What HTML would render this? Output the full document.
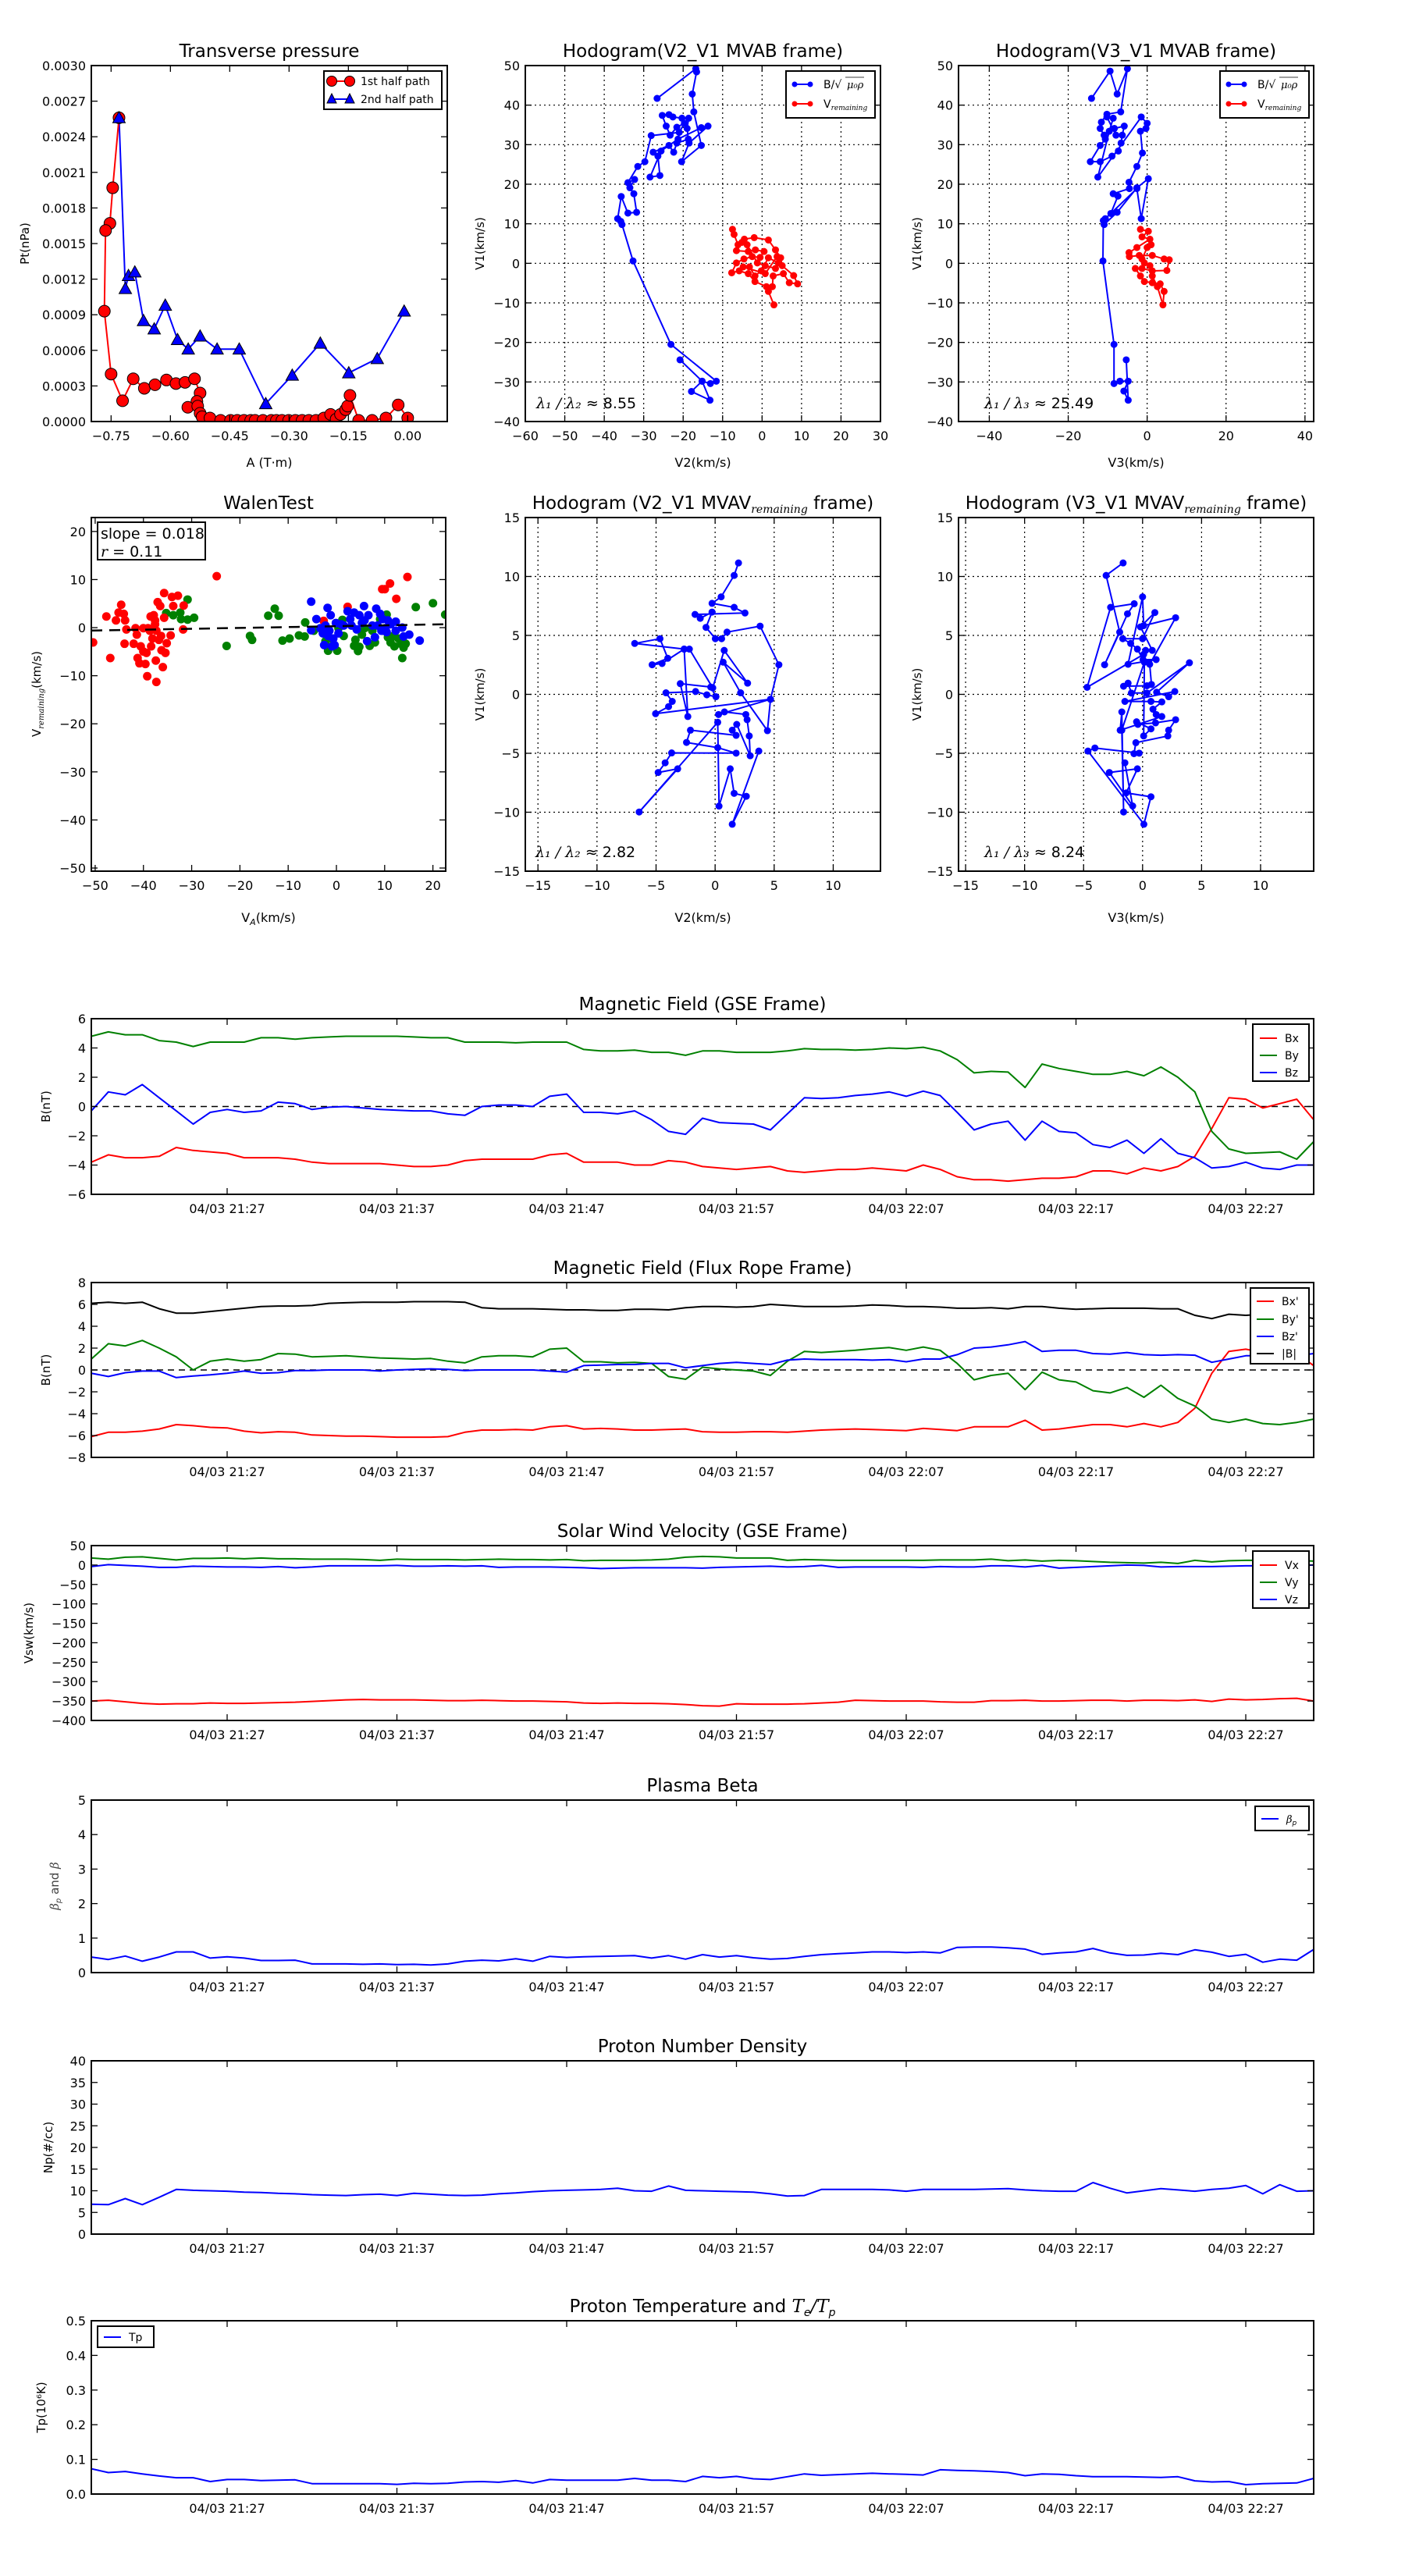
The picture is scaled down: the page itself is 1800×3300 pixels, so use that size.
<!DOCTYPE html>
<html><head><meta charset="utf-8">
<style>
html,body{margin:0;padding:0;background:#fff;}
svg{display:block;font-family:"DejaVu Sans","Liberation Sans",sans-serif;}
</style></head>
<body>
<svg id="fig" xmlns="http://www.w3.org/2000/svg" width="1800" height="3300" viewBox="0 0 1800 3300">
<rect x="0" y="0" width="1800" height="3300" fill="#fff"/>
<defs id="defs"></defs>
</svg>
<script>
// ---------------- DATA ----------------
const tpRedA=[-0.730,-0.746,-0.753,-0.764,-0.767,-0.750,-0.721,-0.694,-0.666,-0.639,-0.610,-0.586,-0.563,-0.539,-0.525,-0.533,-0.556,-0.531,-0.525,-0.520,-0.500,-0.473,-0.448,-0.431,-0.414,-0.397,-0.386,-0.366,-0.345,-0.332,-0.318,-0.301,-0.284,-0.267,-0.250,-0.232,-0.212,-0.195,-0.181,-0.170,-0.157,-0.152,-0.146,-0.124,-0.090,-0.055,-0.024,0.000];
const tpRedP=[0.00256,0.00197,0.00167,0.00161,0.00093,0.00040,0.000175,0.00036,0.00028,0.00031,0.00035,0.00032,0.00033,0.00036,0.00024,0.00017,0.00012,0.00013,0.00007,0.00004,0.00003,0.00001,0.00001,0.00001,0.00001,0.00001,0.00001,0.00001,0.00001,0.00001,0.00001,0.00001,0.00001,0.00001,0.00001,0.00001,0.00003,0.00006,0.00002,0.00006,0.00010,0.00013,0.00022,0.00001,0.00001,0.00003,0.00014,0.00003];
const tpBlueA=[-0.730,-0.714,-0.706,-0.690,-0.668,-0.641,-0.613,-0.582,-0.555,-0.525,-0.482,-0.426,-0.359,-0.292,-0.221,-0.149,-0.077,-0.009];
const tpBlueP=[0.00256,0.00112,0.00123,0.00126,0.00085,0.00078,0.00098,0.00069,0.00061,0.00072,0.00061,0.00061,0.00015,0.00039,0.00066,0.00041,0.00053,0.00093];
const tpXTicks=[-0.75,-0.60,-0.45,-0.30,-0.15,0.00];
const tpXLabels=["\u22120.75","\u22120.60","\u22120.45","\u22120.30","\u22120.15","0.00"];
const tpYTicks=[0,0.0003,0.0006,0.0009,0.0012,0.0015,0.0018,0.0021,0.0024,0.0027,0.0030];
const tpYLabels=["0.0000","0.0003","0.0006","0.0009","0.0012","0.0015","0.0018","0.0021","0.0024","0.0027","0.0030"];

const h1BV2=[-26.6,-16.8,-16.6,-17.7,-17.3,-15.4,-20.4,-18.5,-13.7,-15.4,-21.3,-25.6,-28.4,-25.9,-26.4,-27.6,-23.6,-22.4,-21.6,-18.7,-19.0,-18.6,-20.3,-22.6,-23.6,-25.3,-24.3,-23.3,-21.6,-19.7,-21.0,-28.1,-29.7,-31.5,-34.0,-32.3,-33.5,-32.5,-31.8,-34.0,-35.7,-36.6,-35.8,-35.5,-32.7,-23.1,-11.6,-13.1,-15.2,-13.2,-17.9,-15.2,-20.8];
const h1BV1=[41.7,49.2,48.4,42.8,38.3,29.8,25.7,30.4,34.7,34.3,31.4,28.4,21.8,22.2,27.1,28.1,29.8,28.1,30.4,31.4,34.1,36.7,36.7,37.0,37.6,37.4,34.7,32.4,34.4,35.4,33.1,32.3,25.7,24.5,20.4,21.2,19.1,17.6,12.9,12.7,16.9,11.3,10.6,9.8,0.6,-20.5,-29.8,-30.4,-29.8,-34.6,-32.4,-29.8,-24.4];
const h1RV2=[-7.5,-7.1,-6.1,-4.5,-2.0,1.6,3.4,4.7,5.1,8.0,9.0,6.9,5.4,2.8,2.6,1.6,3.0,1.1,-1.8,-3.5,-5.8,-7.7,-6.5,-4.6,-2.5,-0.5,0.5,-1.7,-3.5,-6.5,-5.1,-3.8,-1.2,0.8,3.4,4.1,1.6,-0.2,-1.8,-3.2,-4.8,0.8,3.8];
const h1RV1=[8.6,7.3,4.7,6.1,6.5,5.9,3.4,1.4,-0.6,-3.1,-5.2,-4.9,-2.6,-3.2,-5.9,-7.1,-10.5,-5.9,-4.6,-2.6,-1.9,-2.4,0.1,1.1,1.7,1.5,3.0,3.4,3.0,3.2,5.3,4.7,0.1,-0.6,-1.3,0.1,1.4,-1.9,-3.2,-0.9,-0.9,-2.6,1.7];
const h1XTicks=[-60,-50,-40,-30,-20,-10,0,10,20,30];
const h1YTicks=[-40,-30,-20,-10,0,10,20,30,40,50];

const h3BV3=[-14.1,-9.4,-7.6,-5.0,-6.7,-10.2,-11.6,-11.9,-10.9,-10.6,-11.9,-14.4,-11.9,-8.9,-7.3,-6.6,-6.3,-5.8,-8.3,-7.9,-10.2,-8.6,-9.6,-12.5,-1.5,0.0,-0.3,-1.7,-1.2,-2.6,-4.6,-4.5,-8.6,-7.4,-9.2,-10.6,-10.9,-7.6,-2.6,0.3,-1.5,-2.6,-11.1,-11.2,-8.4,-8.4,-6.9,-4.8,-5.9,-4.8,-5.3];
const h3BV1=[41.7,48.6,42.8,49.2,38.3,37.7,35.7,34.1,32.4,31.4,29.8,25.7,25.7,27.1,28.4,30.4,32.4,34.7,34.1,32.4,37.0,36.7,33.4,21.8,37.0,35.4,34.1,33.4,27.9,24.5,20.5,18.9,17.6,17.0,12.6,11.3,9.8,12.9,19.1,21.4,11.3,18.9,10.8,0.6,-20.5,-30.4,-29.8,-29.8,-32.3,-34.6,-24.4];
const h3RV3=[-1.7,0.3,-1.3,0.7,-2.6,-4.6,-4.5,-2.0,1.3,4.3,5.6,5.0,1.3,-1.3,-3.0,-1.7,-0.7,1.3,3.3,4.3,4.0,2.6,1.3,0.7,-0.7,-1.3,0.0,1.0];
const h3RV1=[8.6,8.1,6.7,6.1,4.0,2.7,1.7,2.0,2.0,1.1,0.9,-1.8,-1.9,-1.3,-1.3,-3.2,-4.6,-4.9,-5.2,-7.1,-10.5,-5.9,-3.2,-0.6,0.1,1.1,4.0,4.7];
const h3XTicks=[-40,-20,0,20,40];
const h3YTicks=[-40,-30,-20,-10,0,10,20,30,40,50];

const wRedX=[-50.43,-47.68,-46.87,-45.69,-45.15,-44.61,-44.07,-43.80,-43.91,-43.53,-42.02,-41.64,-41.37,-41.21,-40.83,-40.56,-40.02,-39.59,-39.37,-39.21,-39.05,-38.51,-38.40,-38.13,-37.86,-37.59,-37.43,-37.32,-37.05,-36.79,-36.52,-36.35,-36.25,-35.98,-35.71,-35.71,-35.44,-35.17,-34.36,-34.09,-33.82,-32.85,-31.77,-31.66,-24.81,2.32,-2.64,9.49,10.03,11.11,12.41,14.72,-37.59,-38.67,-40.02,-37.32];
const wRedY=[-3.08,2.32,-6.32,1.51,3.14,4.76,2.86,1.51,-3.35,-0.38,-3.35,-0.11,-1.46,-6.32,-7.41,-3.89,-4.97,-7.57,-5.24,-10.11,-0.11,2.32,-3.89,-2.27,2.59,0.70,-6.86,-11.30,5.30,-2.54,4.49,-1.73,-4.70,-8.22,7.19,2.05,-5.24,-3.24,-1.62,6.38,4.49,6.65,-0.38,4.59,10.70,4.32,1.41,8.0,8.0,9.19,6.0,10.54,1.51,-0.65,-0.11,-0.65];
const wGreenX=[-35.28,-33.82,-32.36,-32.20,-30.85,-30.85,-29.50,-22.76,-17.91,-17.48,-14.13,-12.78,-11.97,-11.17,-9.71,-7.77,-6.58,-6.47,-4.69,-1.73,0.16,1.24,3.67,3.94,4.48,4.75,5.29,6.90,7.98,9.06,10.41,10.68,11.22,12.03,12.84,13.65,13.92,14.35,16.45,20.01,22.55,-2.27,-0.92,0.43,1.51,5.83,7.44,9.60,11.76,13.38];
const wGreenY=[3.03,2.59,3.14,1.78,5.84,1.68,2.05,-3.80,-1.73,-2.54,2.49,3.95,2.49,-2.70,-2.27,-1.62,-1.84,1.08,-0.65,-4.81,-4.81,1.62,-3.78,-2.54,-4.86,-4.0,-1.46,-3.78,-3.08,1.78,2.70,-2.0,-3.08,-3.89,-2.27,-6.32,-4.16,-3.35,4.27,5.08,2.70,-2.81,-2.27,-0.11,-1.73,-0.11,-0.65,-0.65,-1.73,-3.35];
const wBlueX=[-5.23,-4.15,-5.23,-3.34,-2.54,-1.83,-1.73,-1.46,-1.19,-0.92,-0.38,-0.11,0.43,0.97,2.32,2.86,3.67,4.21,4.75,5.29,5.72,6.36,6.63,7.44,7.98,8.25,9.06,9.33,9.60,10.68,11.22,12.30,12.30,13.65,13.92,15.10,17.26,-2.81,-2.27,-0.65,1.51,3.13,5.83,8.52,10.14,10.41];
const wBlueY=[5.41,1.78,-0.54,-0.11,-3.62,4.11,-1.73,-0.65,2.59,-3.89,-3.62,0.97,-1.19,0.70,3.41,1.78,3.14,-0.38,2.59,0.97,4.49,-2.81,2.59,0.43,-2.0,3.95,2.86,-0.65,1.78,1.51,0.70,1.24,-0.65,0.0,-1.84,-1.46,-2.70,-1.19,0.43,-2.27,0.43,0.43,1.51,0.43,-0.11,-0.92];
const wSlope=[0.018];
const wIntercept=[0.3];
const wXTicks=[-50,-40,-30,-20,-10,0,10,20];
const wYTicks=[-50,-40,-30,-20,-10,0,10,20];

const h2V2=[1.98,1.61,0.51,-0.26,1.61,2.53,-1.70,-1.26,-0.26,-0.77,0.02,0.55,1.01,3.81,5.40,4.69,4.43,2.16,0.68,2.75,0.77,-0.20,-2.18,-2.62,-6.81,-4.67,-4.01,-5.33,-4.49,-2.62,-2.31,-2.95,-0.37,0.07,-0.70,-1.65,-4.16,-3.63,-3.94,-5.04,4.69,0.29,0.79,2.60,2.71,2.89,2.97,1.83,1.45,1.78,-2.09,-2.42,0.22,1.78,-3.68,-4.23,-4.82,-3.17,-6.43,0.22,0.33,1.28,1.61,2.64,1.45,3.70];
const h2V1=[11.15,10.09,8.27,7.72,7.38,6.90,6.78,6.45,6.98,5.68,4.72,4.72,5.28,5.79,2.51,-0.42,-3.08,0.13,2.73,0.95,3.73,0.55,3.84,3.84,4.32,4.72,3.06,2.51,2.62,3.84,-1.88,0.91,0.62,-0.20,-0.04,0.24,0.13,-0.60,-1.04,-1.64,-0.42,-1.71,-1.49,-1.71,-2.15,-3.53,-5.21,-2.55,-3.04,-3.48,-3.04,-4.08,-4.52,-4.99,-4.97,-5.81,-6.63,-6.32,-9.98,-2.37,-9.48,-6.32,-8.40,-8.65,-11.02,-4.81];
const h2XTicks=[-15,-10,-5,0,5,10];
const h2YTicks=[-15,-10,-5,0,5,10,15];

const h4V3=[-1.65,-3.09,-1.94,-3.22,-1.28,-0.71,-2.71,-4.70,0.09,0.26,0.82,-0.18,1.04,0.0,-1.68,-1.01,-0.44,0.04,1.15,-1.23,0.0,0.09,2.80,0.60,0.75,0.37,-1.61,-1.23,-0.95,0.37,3.97,1.19,2.21,2.73,-1.50,0.71,1.63,0.88,1.15,1.63,-1.90,-1.76,-1.61,-1.76,0.15,0.09,0.71,-0.51,-0.40,1.10,2.80,2.21,2.14,-0.57,-0.73,-0.29,-4.04,-4.63,0.11,0.71,-1.39,-0.44,-2.82,-0.84,-1.50];
const h4V1=[11.15,10.09,5.28,2.51,6.83,7.69,7.38,0.60,3.39,3.73,3.73,5.72,6.94,4.72,4.72,4.32,3.84,2.95,2.95,2.55,8.27,5.83,6.50,2.55,0.84,0.73,0.69,0.95,0.11,0.11,2.68,0.18,-0.20,0.24,-0.60,-0.60,-0.64,-1.26,-1.71,-1.88,-3.04,-1.49,-9.98,-3.04,2.73,-3.53,-2.93,-2.33,-2.55,-2.42,-2.15,-3.04,-3.53,-4.10,-5.03,-4.99,-4.55,-4.81,-11.02,-8.69,-8.36,-6.32,-6.63,-9.47,-5.81];
const h4XTicks=[-15,-10,-5,0,5,10];
const h4YTicks=[-15,-10,-5,0,5,10,15];

const timeTicks=[8,18,28,38,48,58,68];
const timeLabels=["04/03 21:27","04/03 21:37","04/03 21:47","04/03 21:57","04/03 22:07","04/03 22:17","04/03 22:27"];
const gseBx=[-3.8,-3.3,-3.5,-3.5,-3.4,-2.8,-3.0,-3.1,-3.2,-3.5,-3.5,-3.5,-3.6,-3.8,-3.9,-3.9,-3.9,-3.9,-4.0,-4.1,-4.1,-4.0,-3.7,-3.6,-3.6,-3.6,-3.6,-3.3,-3.2,-3.8,-3.8,-3.8,-4.0,-4.0,-3.7,-3.8,-4.1,-4.2,-4.3,-4.2,-4.1,-4.4,-4.5,-4.4,-4.3,-4.3,-4.2,-4.3,-4.4,-4.0,-4.3,-4.8,-5.0,-5.0,-5.1,-5.0,-4.9,-4.9,-4.8,-4.4,-4.4,-4.6,-4.2,-4.4,-4.1,-3.4,-1.5,0.6,0.5,-0.1,0.2,0.5,-0.9];
const gseBy=[4.8,5.1,4.9,4.9,4.5,4.4,4.1,4.4,4.4,4.4,4.7,4.7,4.6,4.7,4.75,4.8,4.8,4.8,4.8,4.75,4.7,4.7,4.4,4.4,4.4,4.35,4.4,4.4,4.4,3.9,3.8,3.8,3.85,3.7,3.7,3.5,3.8,3.8,3.7,3.7,3.7,3.8,3.95,3.9,3.9,3.85,3.9,4.0,3.95,4.05,3.8,3.2,2.3,2.4,2.35,1.3,2.9,2.6,2.4,2.2,2.2,2.4,2.1,2.7,2.0,1.0,-1.7,-2.9,-3.2,-3.15,-3.1,-3.6,-2.4];
const gseBz=[-0.3,1.0,0.8,1.5,0.6,-0.3,-1.2,-0.4,-0.2,-0.4,-0.3,0.3,0.2,-0.2,-0.05,0.0,-0.1,-0.2,-0.25,-0.3,-0.3,-0.5,-0.6,0.0,0.1,0.1,0.0,0.7,0.85,-0.4,-0.4,-0.5,-0.3,-0.9,-1.7,-1.9,-0.8,-1.1,-1.15,-1.2,-1.6,-0.5,0.6,0.55,0.6,0.75,0.85,1.0,0.7,1.05,0.75,-0.4,-1.6,-1.2,-1.0,-2.3,-1.0,-1.7,-1.8,-2.6,-2.8,-2.3,-3.2,-2.2,-3.2,-3.5,-4.2,-4.1,-3.8,-4.2,-4.3,-4.0,-4.0];
const frBx=[-6.1,-5.7,-5.7,-5.6,-5.4,-5.0,-5.1,-5.25,-5.3,-5.6,-5.75,-5.65,-5.7,-5.95,-6.0,-6.05,-6.05,-6.1,-6.15,-6.15,-6.15,-6.1,-5.7,-5.5,-5.5,-5.45,-5.5,-5.2,-5.1,-5.4,-5.35,-5.4,-5.5,-5.5,-5.45,-5.4,-5.65,-5.7,-5.7,-5.65,-5.65,-5.7,-5.6,-5.5,-5.45,-5.4,-5.45,-5.5,-5.55,-5.35,-5.45,-5.55,-5.2,-5.2,-5.2,-4.6,-5.5,-5.4,-5.2,-5.0,-5.0,-5.2,-4.9,-5.2,-4.8,-3.5,-0.3,1.7,1.9,1.6,1.8,1.5,0.4];
const frBy=[1.0,2.4,2.2,2.7,2.0,1.2,0.0,0.8,1.0,0.8,0.95,1.5,1.45,1.2,1.25,1.3,1.2,1.1,1.05,1.0,1.05,0.8,0.65,1.2,1.3,1.3,1.2,1.9,2.0,0.75,0.75,0.65,0.7,0.6,-0.6,-0.85,0.25,0.1,0.0,-0.1,-0.5,0.8,1.7,1.6,1.7,1.8,1.95,2.05,1.8,2.1,1.8,0.6,-0.9,-0.5,-0.3,-1.8,-0.2,-0.9,-1.1,-1.9,-2.1,-1.6,-2.5,-1.4,-2.6,-3.3,-4.5,-4.8,-4.5,-4.9,-5.0,-4.8,-4.5];
const frBz=[-0.3,-0.6,-0.25,-0.1,-0.1,-0.7,-0.55,-0.45,-0.3,-0.1,-0.3,-0.25,-0.05,-0.05,0.0,0.0,0.0,-0.1,0.0,0.05,0.1,0.05,-0.05,0.0,0.0,0.0,0.0,-0.1,-0.2,0.4,0.45,0.5,0.5,0.6,0.6,0.2,0.4,0.6,0.7,0.6,0.5,0.9,1.0,0.95,0.95,0.95,0.9,0.95,0.75,1.0,1.0,1.4,2.0,2.1,2.3,2.6,1.7,1.8,1.8,1.5,1.45,1.6,1.4,1.35,1.4,1.35,0.7,1.0,1.3,1.3,1.5,1.3,1.5];
const frBt=[6.1,6.2,6.1,6.2,5.6,5.2,5.2,5.35,5.5,5.65,5.8,5.85,5.85,5.9,6.1,6.15,6.2,6.2,6.2,6.25,6.25,6.25,6.2,5.7,5.6,5.6,5.6,5.55,5.5,5.5,5.45,5.45,5.55,5.55,5.5,5.7,5.8,5.8,5.75,5.8,6.0,5.9,5.8,5.8,5.8,5.85,5.95,5.9,5.8,5.8,5.75,5.65,5.65,5.7,5.6,5.8,5.8,5.65,5.55,5.6,5.65,5.65,5.65,5.6,5.6,5.0,4.7,5.1,5.0,5.1,5.0,5.0,4.7];
const vx=[-350,-348,-352,-356,-358,-357,-357,-355,-356,-356,-355,-354,-353,-351,-349,-347,-346,-347,-347,-347,-348,-349,-349,-348,-349,-350,-350,-351,-352,-355,-356,-355,-356,-356,-357,-359,-362,-363,-357,-358,-358,-358,-357,-355,-353,-348,-349,-350,-350,-350,-352,-353,-353,-349,-349,-348,-350,-350,-349,-348,-348,-350,-348,-348,-349,-347,-351,-345,-347,-346,-344,-343,-350];
const vy=[18,15,20,21,17,13,17,17,18,16,18,16,16,15,15,15,14,12,15,14,14,14,13,14,15,14,14,13,14,11,12,12,12,13,15,20,22,21,18,18,18,12,14,13,12,12,12,12,12,12,13,13,13,15,11,13,10,12,11,9,7,6,5,7,4,12,8,11,12,12,10,12,10];
const vz=[-4,1,-1,-3,-6,-6,-3,-4,-5,-5,-6,-4,-7,-5,-2,-2,-2,-2,-1,-3,-3,-2,-3,-2,-6,-5,-5,-5,-6,-7,-9,-8,-7,-7,-7,-7,-8,-6,-5,-4,-3,-5,-4,-1,-6,-5,-5,-5,-5,-6,-4,-5,-5,-2,-2,-5,-1,-8,-6,-4,-2,0,-1,-5,-4,-4,-4,-3,-2,-2,-2,-1,0];
const betaP=[0.45,0.38,0.48,0.33,0.45,0.6,0.6,0.42,0.46,0.42,0.35,0.35,0.36,0.25,0.25,0.25,0.24,0.25,0.23,0.24,0.22,0.25,0.33,0.36,0.34,0.4,0.33,0.47,0.44,0.46,0.47,0.48,0.49,0.42,0.49,0.39,0.52,0.45,0.49,0.43,0.39,0.41,0.47,0.52,0.55,0.57,0.6,0.6,0.58,0.6,0.57,0.73,0.74,0.74,0.72,0.68,0.53,0.57,0.6,0.7,0.57,0.5,0.51,0.56,0.52,0.66,0.59,0.47,0.53,0.3,0.39,0.36,0.67];
const density=[6.9,6.8,8.2,6.8,8.5,10.3,10.1,10.0,9.9,9.7,9.6,9.4,9.3,9.1,9.0,8.9,9.1,9.2,8.9,9.4,9.2,9.0,8.9,9.0,9.3,9.5,9.8,10.0,10.1,10.2,10.3,10.6,10.0,9.9,11.1,10.1,10.0,9.9,9.8,9.7,9.3,8.8,8.9,10.3,10.3,10.3,10.3,10.2,9.9,10.3,10.3,10.3,10.3,10.4,10.5,10.2,10.0,9.9,9.9,11.9,10.6,9.5,10.0,10.5,10.2,9.9,10.3,10.6,11.2,9.3,11.4,9.9,10.0];
const tempP=[0.073,0.062,0.065,0.058,0.052,0.047,0.047,0.036,0.042,0.042,0.039,0.040,0.041,0.030,0.030,0.030,0.030,0.030,0.028,0.031,0.030,0.031,0.035,0.036,0.034,0.039,0.032,0.042,0.040,0.040,0.040,0.040,0.045,0.040,0.040,0.036,0.051,0.047,0.051,0.044,0.042,0.050,0.058,0.054,0.056,0.058,0.060,0.058,0.057,0.055,0.070,0.068,0.067,0.065,0.062,0.053,0.058,0.057,0.053,0.050,0.050,0.050,0.049,0.048,0.050,0.038,0.035,0.036,0.027,0.030,0.031,0.032,0.045];

// ---------------- DRAWING ----------------
const NS='http://www.w3.org/2000/svg';
const svg=document.getElementById('fig');
const defs=document.getElementById('defs');
function mk(tag,attrs,parent){const e=document.createElementNS(NS,tag);for(const k in attrs)e.setAttribute(k,attrs[k]);(parent||svg).appendChild(e);return e;}
function tx(str,attrs,parent){const e=mk('text',attrs,parent);e.textContent=str;return e;}
function fmt(v){return v<0?'\u2212'+Math.abs(v):String(v);}
let clipN=0;

function panel(c){
  const g=mk('g',{});
  
  
  const sx=v=>c.x0+(v-c.xmin)/(c.xmax-c.xmin)*c.w;
  const sy=v=>c.y0+c.h-(v-c.ymin)/(c.ymax-c.ymin)*c.h;
  const cid='clip'+(clipN++);
  const cp=mk('clipPath',{id:cid},defs);
  mk('rect',{x:c.x0,y:c.y0,width:c.w,height:c.h},cp);
  if(c.grid){
    c.xticks.forEach(v=>{const l=mk('line',{x1:sx(v),x2:sx(v),y1:c.y0,y2:c.y0+c.h,stroke:'#000','stroke-width':1.2,'stroke-dasharray':'2,4'},g);
      
      });
    c.yticks.forEach(v=>{const l=mk('line',{x1:c.x0,x2:c.x0+c.w,y1:sy(v),y2:sy(v),stroke:'#000','stroke-width':1.2,'stroke-dasharray':'2,4'},g);
      
      });
  }
  const plot=mk('g',{'clip-path':'url(#'+cid+')'},g);
  
  
  const frame=mk('rect',{x:c.x0,y:c.y0,width:c.w,height:c.h,fill:'none',stroke:'#000','stroke-width':2},g);
  
  
  const xl=c.xlabels||c.xticks.map(fmt);
  c.xticks.forEach((v,i)=>{
    const x=sx(v);
    mk('line',{x1:x,x2:x,y1:c.y0+c.h,y2:c.y0+c.h-8,stroke:'#000','stroke-width':1.3},g);
    mk('line',{x1:x,x2:x,y1:c.y0,y2:c.y0+8,stroke:'#000','stroke-width':1.3},g);
    const t=tx(xl[i],{x:x,y:c.y0+c.h+24,'text-anchor':'middle','font-size':16},g);
    
    
  });
  const yl=c.ylabels||c.yticks.map(fmt);
  c.yticks.forEach((v,i)=>{
    const y=sy(v);
    mk('line',{x1:c.x0,x2:c.x0+8,y1:y,y2:y,stroke:'#000','stroke-width':1.3},g);
    mk('line',{x1:c.x0+c.w,x2:c.x0+c.w-8,y1:y,y2:y,stroke:'#000','stroke-width':1.3},g);
    const t=tx(yl[i],{x:c.x0-7,y:y+6,'text-anchor':'end','font-size':16},g);
    
    
  });
  const tt=tx(c.title||'',{x:c.x0+c.w/2,y:c.y0-11,'text-anchor':'middle','font-size':23},g);
  
  
  if(c.xlabel){const t=tx(c.xlabel,{x:c.x0+c.w/2,y:c.xlabelY,'text-anchor':'middle','font-size':16},g);
    
    }
  let ylab=null;
  if(c.ylabel){ylab=tx(c.ylabel,{x:0,y:0,'text-anchor':'middle','font-size':15,transform:'translate('+c.ylabelX+','+(c.y0+c.h/2)+') rotate(-90)'},g);
    
    }
  return {g,plot,sx,sy,c,ylab,tt};
}
function line(P,xs,ys,color,name,w){
  const pts=xs.map((x,i)=>P.sx(x).toFixed(1)+','+P.sy(ys[i]).toFixed(1)).join(' ');
  const l=mk('polyline',{points:pts,fill:'none',stroke:color,'stroke-width':w||2,'stroke-linejoin':'round'},P.plot);
  
  
  return l;
}
function dots(P,xs,ys,color,r,name,edge){
  xs.forEach((x,i)=>{
    const d=mk('circle',{cx:P.sx(x),cy:P.sy(ys[i]),r:r,fill:color,stroke:edge?'#000':'none','stroke-width':1},P.plot);
    
    
  });
}
function tri(P,xs,ys,color,name){
  xs.forEach((x,i)=>{
    const cx=P.sx(x),cy=P.sy(ys[i]),s=8;
    const p=mk('polygon',{points:`${cx},${cy-s} ${cx-s},${cy+s*0.8} ${cx+s},${cy+s*0.8}`,fill:color,stroke:'#000','stroke-width':1},P.plot);
    
    
  });
}
function legendBox(x,y,w,h,name){
  const b=mk('rect',{x:x,y:y,width:w,height:h,fill:'#fff',stroke:'#000','stroke-width':2});
  
  
}
function legLine(x,y,color,label,name,markers){
  const g=mk('g',{});
  
  
  mk('line',{x1:x,x2:x+22,y1:y,y2:y,stroke:color,'stroke-width':2},g);
  if(markers){mk('circle',{cx:x,cy:y,r:4,fill:color},g);mk('circle',{cx:x+22,cy:y,r:4,fill:color},g);}
  const t=tx(label,{x:x+32,y:y+5,'font-size':14},g);
  return t;
}

// ---- Row 1 ----
const P1=panel({name:'transverse-pressure-chart',x0:117,y0:84,w:456,h:456,xmin:-0.8,xmax:0.1,ymin:0,ymax:0.003,
  xticks:tpXTicks,xlabels:tpXLabels,yticks:tpYTicks,ylabels:tpYLabels,title:'Transverse pressure',xlabel:'A (T\u00b7m)',xlabelY:598,ylabel:'Pt(nPa)',ylabelX:37});
line(P1,tpBlueA,tpBlueP,'#0000ff','second-half-path-line',2);
line(P1,tpRedA,tpRedP,'#ff0000','first-half-path-line',2);
dots(P1,tpRedA,tpRedP,'#ff0000',7.5,'first-half-path-marker',true);
tri(P1,tpBlueA,tpBlueP,'#0000ff','second-half-path-marker');
legendBox(415,91,151,49,'pressure-legend');
{const g=mk('g',{});
 mk('line',{x1:425,x2:448,y1:104,y2:104,stroke:'#f00','stroke-width':2},g);
 mk('circle',{cx:425,cy:104,r:6.5,fill:'#f00',stroke:'#000'},g);mk('circle',{cx:448,cy:104,r:6.5,fill:'#f00',stroke:'#000'},g);
 tx('1st half path',{x:462,y:109,'font-size':14},g);}
{const g=mk('g',{});
 mk('line',{x1:425,x2:448,y1:127,y2:127,stroke:'#00f','stroke-width':2},g);
 mk('polygon',{points:'425,120 419,132 431,132',fill:'#00f',stroke:'#000'},g);mk('polygon',{points:'448,120 442,132 454,132',fill:'#00f',stroke:'#000'},g);
 tx('2nd half path',{x:462,y:132,'font-size':14},g);}

function hodoLegend(x,y,name){
  legendBox(x,y,114,60,name);
  const g=mk('g',{});
  
  
  mk('line',{x1:x+11,x2:x+31,y1:y+17,y2:y+17,stroke:'#00f','stroke-width':2},g);
  mk('circle',{cx:x+11,cy:y+17,r:3.5,fill:'#00f'},g);mk('circle',{cx:x+31,cy:y+17,r:3.5,fill:'#00f'},g);
  tx('B/\u221a',{x:x+48,y:y+22,'font-size':14},g);
  tx('\u03bc\u2080\u03c1',{x:x+78,y:y+22,'font-size':13,'font-style':'italic','font-family':'"DejaVu Serif",serif'},g);
  mk('line',{x1:x+76,x2:x+100,y1:y+8,y2:y+8,stroke:'#000','stroke-width':0.8},g);
  const g2=mk('g',{});
  
  
  mk('line',{x1:x+11,x2:x+31,y1:y+42,y2:y+42,stroke:'#f00','stroke-width':2},g2);
  mk('circle',{cx:x+11,cy:y+42,r:3.5,fill:'#f00'},g2);mk('circle',{cx:x+31,cy:y+42,r:3.5,fill:'#f00'},g2);
  const t=tx('V',{x:x+48,y:y+47,'font-size':14},g2);
  const s=mk('tspan',{'font-size':9,'font-style':'italic','font-family':'"DejaVu Serif",serif',dy:3},t);s.textContent='remaining';
}
function lambdaText(x,y,a,b,val,name){
  const t=tx('',{x:x,y:y,'font-size':19},svg);
  
  
  const s1=mk('tspan',{'font-style':'italic','font-family':'"DejaVu Serif",serif'},t);s1.textContent='\u03bb'+a+' / \u03bb'+b;
  const s2=mk('tspan',{},t);s2.textContent=' \u2248 '+val;
}

const P2=panel({name:'hodogram-v2-v1-mvab',x0:673,y0:84,w:455,h:456,xmin:-60,xmax:30,ymin:-40,ymax:50,grid:true,
  xticks:h1XTicks,yticks:h1YTicks,title:'Hodogram(V2_V1 MVAB frame)',xlabel:'V2(km/s)',xlabelY:598,ylabel:'V1(km/s)',ylabelX:620});
line(P2,h1BV2,h1BV1,'#0000ff','alfven-b-trace',2);
dots(P2,h1BV2,h1BV1,'#0000ff',4.5,'alfven-b-point');
line(P2,h1RV2,h1RV1,'#ff0000','v-remaining-trace',2);
dots(P2,h1RV2,h1RV1,'#ff0000',4.5,'v-remaining-point');
hodoLegend(1007,91,'hodogram-mvab-v2-legend');
lambdaText(687,523,'\u2081','\u2082','8.55','eigenvalue-ratio-label');

const P3=panel({name:'hodogram-v3-v1-mvab',x0:1228,y0:84,w:455,h:456,xmin:-47.8,xmax:42.2,ymin:-40,ymax:50,grid:true,
  xticks:h3XTicks,yticks:h3YTicks,title:'Hodogram(V3_V1 MVAB frame)',xlabel:'V3(km/s)',xlabelY:598,ylabel:'V1(km/s)',ylabelX:1180});
line(P3,h3BV3,h3BV1,'#0000ff','alfven-b-trace',2);
dots(P3,h3BV3,h3BV1,'#0000ff',4.5,'alfven-b-point');
line(P3,h3RV3,h3RV1,'#ff0000','v-remaining-trace',2);
dots(P3,h3RV3,h3RV1,'#ff0000',4.5,'v-remaining-point');
hodoLegend(1563,91,'hodogram-mvab-v3-legend');
lambdaText(1261,523,'\u2081','\u2083','25.49','eigenvalue-ratio-label');

// ---- Row 2 ----
const P4=panel({name:'walen-test-chart',x0:117,y0:663,w:454,h:453,xmin:-50.8,xmax:22.65,ymin:-50.65,ymax:22.9,
  xticks:wXTicks,yticks:wYTicks,title:'WalenTest',ylabelX:52});
{const t=tx('V',{x:117+227,y:1181,'text-anchor':'middle','font-size':16});
 
 
 const s=mk('tspan',{'font-size':11,'font-style':'italic',dy:4},t);s.textContent='A';
 const s2=mk('tspan',{dy:-4},t);s2.textContent='(km/s)';
 const yt=tx('V',{x:0,y:0,'text-anchor':'middle','font-size':15,transform:'translate(52,889) rotate(-90)'});
 
 
 const y1=mk('tspan',{'font-size':10,'font-style':'italic','font-family':'"DejaVu Serif",serif',dy:4},yt);y1.textContent='remaining';
 const y2=mk('tspan',{dy:-4},yt);y2.textContent='(km/s)';}
dots(P4,wGreenX,wGreenY,'#008000',5.5,'walen-point-green');
dots(P4,wRedX,wRedY,'#ff0000',5.5,'walen-point-red');
dots(P4,wBlueX,wBlueY,'#0000ff',5.5,'walen-point-blue');
{const fx=[P4.c.xmin,P4.c.xmax];const fy=fx.map(x=>wSlope[0]*x+wIntercept[0]);
 const l=line(P4,fx,fy,'#000','walen-fit-line',2.5);l.setAttribute('stroke-dasharray','14,9');}
legendBox(125,669,138,48,'walen-stats-box');
{const t=tx('slope = 0.018',{x:129,y:690,'font-size':19});
 
 
 const t2=tx('',{x:129,y:713,'font-size':19});
 
 
 const a=mk('tspan',{'font-style':'italic','font-family':'"DejaVu Serif",serif'},t2);a.textContent='r';
 const b=mk('tspan',{},t2);b.textContent=' = 0.11';}

const P5=panel({name:'hodogram-v2-v1-mvav',x0:673,y0:663,w:455,h:453,xmin:-16.07,xmax:14.0,ymin:-15,ymax:15,grid:true,
  xticks:h2XTicks,yticks:h2YTicks,title:'',xlabel:'V2(km/s)',xlabelY:1181,ylabel:'V1(km/s)',ylabelX:620});
P5.tt.textContent='Hodogram (V2_V1 MVAV';
{const s=mk('tspan',{'font-size':14,'font-style':'italic','font-family':'"DejaVu Serif",serif',dy:5},P5.tt);s.textContent='remaining';
 const s2=mk('tspan',{dy:-5},P5.tt);s2.textContent=' frame)';}
line(P5,h2V2,h2V1,'#0000ff','mvav-hodogram-trace',2);
dots(P5,h2V2,h2V1,'#0000ff',4.5,'mvav-hodogram-point');
lambdaText(686,1098,'\u2081','\u2082','2.82','eigenvalue-ratio-label');

const P6=panel({name:'hodogram-v3-v1-mvav',x0:1228,y0:663,w:455,h:453,xmin:-15.6,xmax:14.5,ymin:-15,ymax:15,grid:true,
  xticks:h4XTicks,yticks:h4YTicks,title:'',xlabel:'V3(km/s)',xlabelY:1181,ylabel:'V1(km/s)',ylabelX:1180});
P6.tt.textContent='Hodogram (V3_V1 MVAV';
{const s=mk('tspan',{'font-size':14,'font-style':'italic','font-family':'"DejaVu Serif",serif',dy:5},P6.tt);s.textContent='remaining';
 const s2=mk('tspan',{dy:-5},P6.tt);s2.textContent=' frame)';}
line(P6,h4V3,h4V1,'#0000ff','mvav-hodogram-trace',2);
dots(P6,h4V3,h4V1,'#0000ff',4.5,'mvav-hodogram-point');
lambdaText(1261,1098,'\u2081','\u2083','8.24','eigenvalue-ratio-label');

// ---- Time series ----
const TSW=1566;
function minutesFor(arr){return arr.map((v,i)=>i*72/(arr.length-1));}
function tsPanel(name,y0,h,ymin,ymax,yticks,title,ylabel,ylabelX,ylabels){
  return panel({name:name,x0:117,y0:y0,w:TSW,h:h,xmin:0,xmax:72,ymin:ymin,ymax:ymax,xticks:timeTicks,xlabels:timeLabels,
    yticks:yticks,ylabels:ylabels,title:title,ylabel:ylabel,ylabelX:ylabelX});
}
function zeroLine(P){const l=line(P,[0,72],[0,0],'#000','zero-reference-line',1.5);l.setAttribute('stroke-dasharray','8,6');}
const LX=117+TSW-78;

const T1=tsPanel('magnetic-field-gse-chart',1305,225,-6,6,[-6,-4,-2,0,2,4,6],'Magnetic Field (GSE Frame)','B(nT)',64);
zeroLine(T1);
line(T1,minutesFor(gseBx),gseBx,'#ff0000','bx-line');
line(T1,minutesFor(gseBy),gseBy,'#008000','by-line');
line(T1,minutesFor(gseBz),gseBz,'#0000ff','bz-line');
legendBox(LX,1312,72,73,'gse-legend');
legLine(LX+9,1330,'#f00','Bx','legend-entry-bx');
legLine(LX+9,1352,'#008000','By','legend-entry-by');
legLine(LX+9,1374,'#00f','Bz','legend-entry-bz');

const T2=tsPanel('magnetic-field-flux-rope-chart',1643,224,-8,8,[-8,-6,-4,-2,0,2,4,6,8],'Magnetic Field (Flux Rope Frame)','B(nT)',64);
zeroLine(T2);
line(T2,minutesFor(frBx),frBx,'#ff0000','bx-prime-line');
line(T2,minutesFor(frBy),frBy,'#008000','by-prime-line');
line(T2,minutesFor(frBz),frBz,'#0000ff','bz-prime-line');
line(T2,minutesFor(frBt),frBt,'#000000','b-magnitude-line');
legendBox(LX-3,1650,75,97,'flux-rope-legend');
legLine(LX+5,1667,'#f00',"Bx'",'legend-entry-bx-prime');
legLine(LX+5,1690,'#008000',"By'",'legend-entry-by-prime');
legLine(LX+5,1712,'#00f',"Bz'",'legend-entry-bz-prime');
legLine(LX+5,1734,'#000','|B|','legend-entry-b-magnitude');

const T3=tsPanel('solar-wind-velocity-chart',1980,224,-400,50,[-400,-350,-300,-250,-200,-150,-100,-50,0,50],'Solar Wind Velocity (GSE Frame)','Vsw(km/s)',42);
line(T3,minutesFor(vx),vx,'#ff0000','vx-line');
line(T3,minutesFor(vy),vy,'#008000','vy-line');
line(T3,minutesFor(vz),vz,'#0000ff','vz-line');
legendBox(LX,1987,72,73,'velocity-legend');
legLine(LX+9,2005,'#f00','Vx','legend-entry-vx');
legLine(LX+9,2027,'#008000','Vy','legend-entry-vy');
legLine(LX+9,2049,'#00f','Vz','legend-entry-vz');

const T4=tsPanel('plasma-beta-chart',2306,221,0,5,[0,1,2,3,4,5],'Plasma Beta','',75);
{const yt=tx('',{x:0,y:0,'text-anchor':'middle','font-size':15,fill:'#444',transform:'translate(75,2416) rotate(-90)'});
 
 
 const a=mk('tspan',{'font-style':'italic','font-family':'"DejaVu Serif",serif'},yt);a.textContent='\u03b2';
 const b=mk('tspan',{'font-size':10,'font-style':'italic',dy:3},yt);b.textContent='p';
 const c=mk('tspan',{dy:-3},yt);c.textContent=' and ';
 const d=mk('tspan',{'font-style':'italic','font-family':'"DejaVu Serif",serif'},yt);d.textContent='\u03b2';}
line(T4,minutesFor(betaP),betaP,'#0000ff','beta-p-line');
legendBox(LX+3,2314,69,31,'beta-legend');
{const t=legLine(LX+11,2330,'#00f','','legend-entry-beta-p');
 const a=mk('tspan',{'font-style':'italic','font-family':'"DejaVu Serif",serif','font-size':13},t);a.textContent='\u03b2';
 const b=mk('tspan',{'font-size':9,'font-style':'italic',dy:3},t);b.textContent='p';}

const T5=tsPanel('proton-density-chart',2640,222,0,40,[0,5,10,15,20,25,30,35,40],'Proton Number Density','Np(#/cc)',67);
line(T5,minutesFor(density),density,'#0000ff','density-line');

const T6=tsPanel('proton-temperature-chart',2973,222,0,0.5,[0,0.1,0.2,0.3,0.4,0.5],'','Tp(10\u2076K)',58,['0.0','0.1','0.2','0.3','0.4','0.5']);
T6.tt.textContent='Proton Temperature and ';
{const a=mk('tspan',{'font-style':'italic','font-family':'"DejaVu Serif",serif'},T6.tt);a.textContent='T';
 const b=mk('tspan',{'font-size':14,'font-style':'italic',dy:5},T6.tt);b.textContent='e';
 const c=mk('tspan',{dy:-5,'font-style':'italic','font-family':'"DejaVu Serif",serif'},T6.tt);c.textContent='/T';
 const d=mk('tspan',{'font-size':14,'font-style':'italic',dy:5},T6.tt);d.textContent='p';}
line(T6,minutesFor(tempP),tempP,'#0000ff','proton-temperature-line');
legendBox(125,2980,72,27,'temperature-legend');
legLine(133,2994,'#00f','Tp','legend-entry-tp');
</script>
</body></html>
